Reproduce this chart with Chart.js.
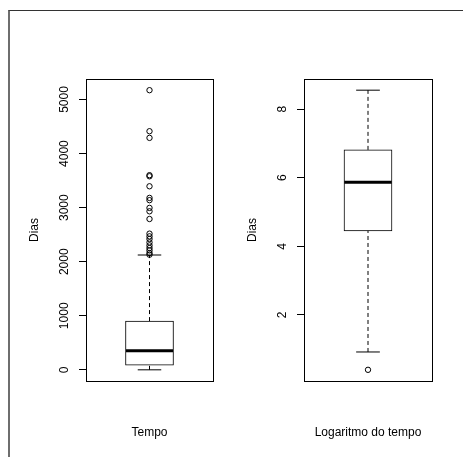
<!DOCTYPE html>
<html lang="pt">
<head>
<meta charset="utf-8">
<title>Tempo / Logaritmo do tempo</title>
<script src="https://cdn.jsdelivr.net/npm/chart.js@4.4.1/dist/chart.umd.min.js"></script>
<style>
  html, body { margin: 0; padding: 0; background: #fff; overflow: hidden; }
  #wrap { position: relative; width: 463px; height: 457px; }
  #frame { position: absolute; left: 8px; top: 10px; width: 520px; height: 520px;
           border-left: 2px solid #6e6e6e; border-top: 1px solid #333; }
  canvas { position: absolute; top: 0; }
  #c1 { left: 0; }
  #c2 { left: 218px; }
</style>
</head>
<body>
<div id="wrap">
  <div id="frame"></div>
  <canvas id="c1" width="218" height="457"></canvas>
  <canvas id="c2" width="245" height="457"></canvas>
</div>
<script>
/* ---- dados ---- */
const categories = ['Tempo', 'Logaritmo do tempo'];
const yTitle = 'Dias';
// [bigode inf, Q1, mediana, Q3, bigode sup]
const tempoStats = [1, 86, 352, 902, 2124];
const tempoOutliers = [5172, 4413, 4290, 3600, 3580, 3395, 3180, 3138, 2995, 2932, 2790,
  2519, 2469, 2420, 2357, 2302, 2253, 2209, 2160, 2130];
const tempoTicks = [0, 1000, 2000, 3000, 4000, 5000];
const logStats = [0.92, 4.45, 5.87, 6.81, 8.55];
const logOutliers = [0.40];
const logTicks = [2, 4, 6, 8];

const FONT = { family: '"Liberation Sans", Arial, Helvetica, sans-serif', size: 12 };
const BOX_HALF = 0.2, CAP_HALF = 0.1;

// largura do rótulo mais largo, p/ centrar os rótulos rodados
const meas = document.createElement('canvas').getContext('2d');
meas.font = `${FONT.size}px ${FONT.family}`;
const tickPad = labels => 21.7 - 7 - Math.max(...labels.map(l => meas.measureText(String(l)).width)) / 2;

/* moldura da área de plotagem (box() do R) */
const framePlugin = {
  id: 'frame',
  afterDraw(chart) {
    const { ctx, chartArea: a } = chart;
    const l = Math.round(a.left), t = Math.round(a.top), r = Math.round(a.right), b = Math.round(a.bottom);
    ctx.save();
    ctx.strokeStyle = '#000'; ctx.lineWidth = 1;
    ctx.strokeRect(l + .5, t + .5, r - l, b - t);
    ctx.restore();
  }
};

const seg = (x0, x1, y0, y1) => [{ x: x0, y: y0 }, { x: x1, y: y1 }];
const lineDs = (data, extra = {}) => ({
  type: 'line', data, borderColor: '#000', borderWidth: 1, pointRadius: 0, tension: 0, ...extra
});

function boxChart(id, label, stats, outliers, ticks, padRight) {
  const [lo, q1, med, q3, hi] = stats;
  const all = [lo, hi, ...outliers];
  const dmin = Math.min(...all), dmax = Math.max(...all);
  const pad = (dmax - dmin) * 0.04;
  return new Chart(document.getElementById(id), {
    type: 'bar',
    data: {
      datasets: [
        lineDs(seg(1 - BOX_HALF, 1 + BOX_HALF, med, med), { borderWidth: 3 }),
        lineDs(seg(1, 1, q3, hi), { borderDash: [4, 3] }),
        lineDs(seg(1, 1, lo, q1), { borderDash: [4, 3] }),
        lineDs(seg(1 - CAP_HALF, 1 + CAP_HALF, hi, hi)),
        lineDs(seg(1 - CAP_HALF, 1 + CAP_HALF, lo, lo)),
        lineDs(outliers.map(v => ({ x: 1, y: v })), {
          showLine: false, pointRadius: 2.7, pointBorderWidth: 1,
          pointBackgroundColor: 'rgba(0,0,0,0)', pointBorderColor: '#000'
        }),
        { type: 'bar', data: [{ x: 1, y: [q1, q3] }], backgroundColor: '#fff', borderColor: '#000',
          borderWidth: 1, borderSkipped: false, barThickness: 48 }
      ]
    },
    options: {
      responsive: false, animation: false, devicePixelRatio: 1,
      layout: { padding: { top: 79, right: padRight, left: 0, bottom: 0 } },
      plugins: { legend: { display: false }, tooltip: { enabled: false } },
      scales: {
        x: {
          type: 'linear', min: 1 - 0.54, max: 1 + 0.54, offset: false,
          grid: { display: false }, border: { display: false }, ticks: { display: false },
          title: { display: true, text: label, color: '#000', font: FONT, padding: { top: 0, bottom: 17.3 } },
          afterFit: s => { s.height = 76; }
        },
        y: {
          min: dmin - pad, max: dmax + pad, beginAtZero: false,
          afterBuildTicks: s => { s.ticks = ticks.map(v => ({ value: v })); },
          grid: { drawOnChartArea: false, drawTicks: true, tickLength: 7, color: '#000', lineWidth: 1 },
          border: { display: false },
          ticks: { color: '#000', font: FONT, minRotation: 90, maxRotation: 90, crossAlign: 'center',
                   padding: tickPad(ticks), callback: v => String(v) },
          title: { display: true, text: yTitle, color: '#000', font: FONT, padding: { top: 27.8, bottom: 0 } },
          afterFit: s => { s.width = 86; }
        }
      }
    },
    plugins: [framePlugin]
  });
}

boxChart('c1', categories[0], tempoStats, tempoOutliers, tempoTicks, 4.5);
boxChart('c2', categories[1], logStats, logOutliers, logTicks, 31);
</script>
</body>
</html>
